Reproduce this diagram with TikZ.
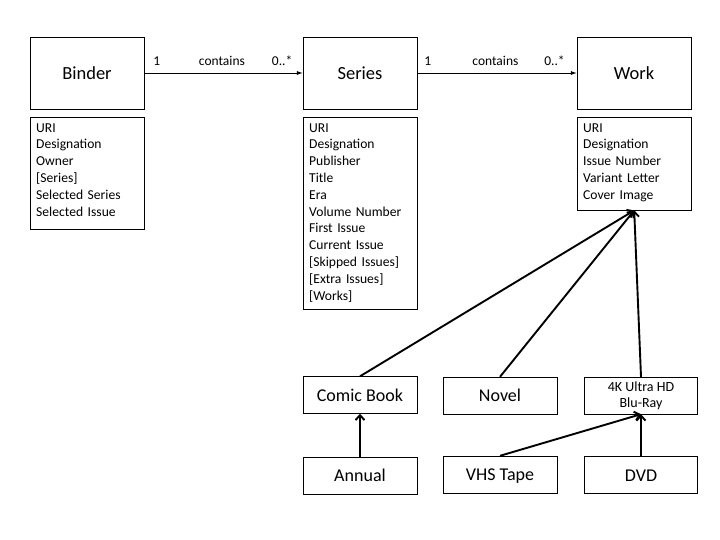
\documentclass[tikz,border=0pt]{standalone}
\usepackage{fontspec}
\setmainfont{Carlito}
\usetikzlibrary{arrows.meta}

\tikzset{
	cls/.style={draw, minimum width=114pt, minimum height=72pt, font=\fontsize{18.5}{22}\selectfont},
	attrs/.style={draw, anchor=north west, text width=102pt, align=left, inner xsep=6pt, inner ysep=4pt, text height=11pt, font=\fontsize{13.6}{16.8}\selectfont},
	kind/.style={draw, minimum width=114pt, minimum height=37pt, text height=12.5pt, text depth=0pt, font=\fontsize{18}{21}\selectfont},
	assoc/.style={-{Latex[length=6pt,width=4pt]}, line width=0.8pt},
	isa/.style={-{Straight Barb[length=5pt,width=9pt]}, line width=1.9pt},
	lbl/.style={above=4pt, font=\fontsize{13.5}{16}\selectfont}
}

\begin{document}
\begin{tikzpicture}[x=1pt, y=-1pt]
	\useasboundingbox (0,0) rectangle (720,540);
	\node[cls] (B) at (87,73) {Binder};
	\node[cls] (S) at (360,73) {Series};
	\node[cls] (W) at (634,73) {Work};
	
	\node[attrs, text depth=93pt] (BA) at (30,117) {URI\\Designation\\Owner\\{[Series]}\\Selected Series\\Selected Issue};
	\node[attrs, text depth=173pt] (SA) at (303,117) {URI\\Designation\\Publisher\\Title\\Era\\Volume Number\\First Issue\\Current Issue\\{[Skipped Issues]}\\{[Extra Issues]}\\{[Works]}};
	\node[attrs, text depth=74pt] (WA) at (577,117) {URI\\Designation\\Issue Number\\Variant Letter\\Cover Image};
	
	\node[kind] (C) at (360,395) {Comic Book};
	\node[kind] (N) at (500,395.5) {Novel};
	\node[kind, minimum width=113pt, text height={}, text depth={}, align=center, font=\fontsize{14}{16}\selectfont] (U) at (641,395.5) {4K Ultra HD\\Blu-Ray};
	\node[kind] (A) at (360,475.5) {Annual};
	\node[kind] (V) at (500,474.5) {VHS Tape};
	\node[kind, minimum width=113pt] (D) at (641,475) {DVD};
	
	\path [assoc] (B) edge node[lbl, pos=0.08] {1} node[lbl, pos=0.49] {contains} node[lbl, pos=0.87] {0..*} (S);
	\path [assoc] (S) edge node[lbl, pos=0.066] {1} node[lbl, pos=0.49] {contains} node[lbl, pos=0.86] {0..*} (W);
	
	\draw [isa] (C.north) -- (WA.south);
	\draw [isa] (N.north) -- (WA.south);
	\draw [isa] (U.north) -- (WA.south);
	\draw [isa] (A.north) -- (C.south);
	\draw [isa] (V.north) -- (U.south);
	\draw [isa] (D.north) -- (U.south);
\end{tikzpicture}
\end{document}
